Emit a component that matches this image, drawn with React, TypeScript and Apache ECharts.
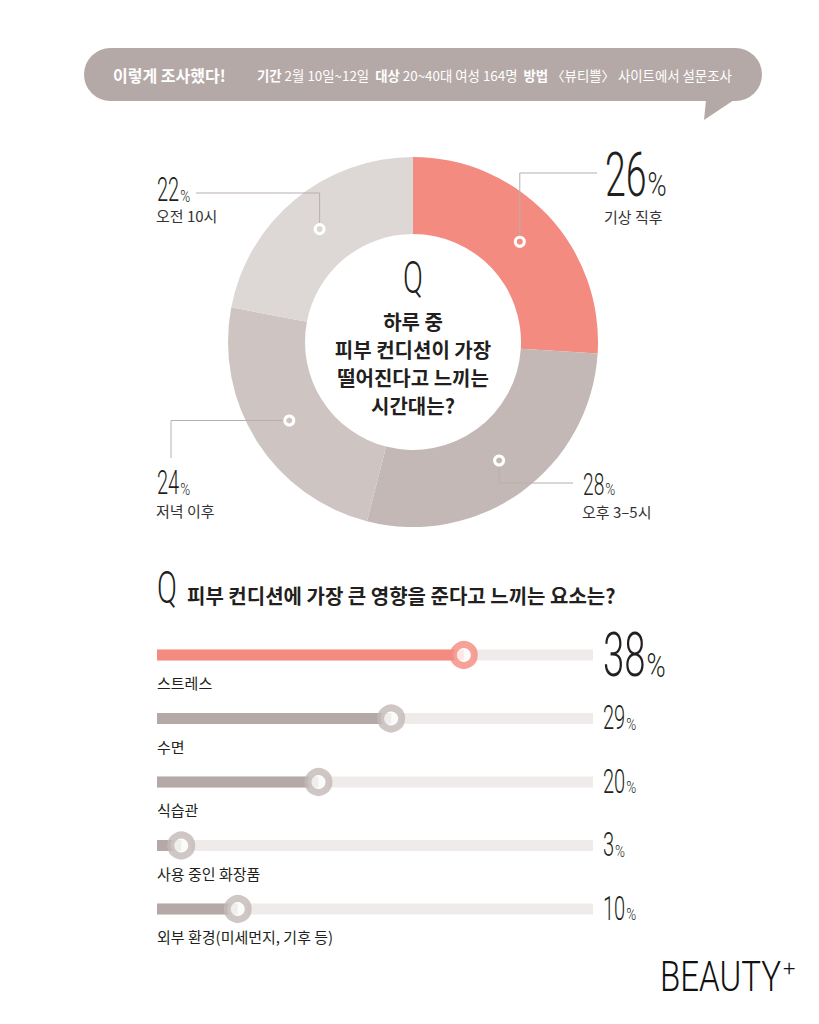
import React, { useEffect, useRef } from "react";
import * as echarts from "echarts";

// ---------- data ----------
const surveyTitle = "이렇게 조사했다!";
const surveyKeys = ["기간", "대상", "방법"];
const surveyValues = ["2월 10일~12일", "20~40대 여성 164명", "〈뷰티쁠〉 사이트에서 설문조사"];

const donutQuestion = ["하루 중", "피부 컨디션이 가장", "떨어진다고 느끼는", "시간대는?"];
const timeLabels = ["기상 직후", "오후 3–5시", "저녁 이후", "오전 10시"];
const timeValues = [26, 28, 24, 22];

const barQuestion = "피부 컨디션에 가장 큰 영향을 준다고 느끼는 요소는?";
const factorLabels = ["스트레스", "수면", "식습관", "사용 중인 화장품", "외부 환경(미세먼지, 기후 등)"];
const factorValues = [38, 29, 20, 3, 10];

const brand = "BEAUTY";

// ---------- styles ----------
const FONT_KR = '"Noto Sans CJK KR", "Noto Sans", sans-serif';
const FONT_NUM = 'Roboto, "DejaVu Sans", sans-serif';
const CORAL = "#F48B80";
const timeColors = [CORAL, "#C3B8B5", "#CEC5C2", "#DDD8D6"];
const TEXT = "#231F20";
const LINE = "#B9AFAD";

const CX = 413, CY = 342, R_IN = 108, R_OUT = 185;

const timeLabelLayout = [
  { x: 605, numBottom: 196, digitH: 43, pctH: 23, nameY: 216, anchor: [597, 173], elbow: "v" },
  { x: 583, numBottom: 495, digitH: 22, pctH: 12, nameY: 511, anchor: [573, 483], elbow: "v" },
  { x: 157, numBottom: 495, digitH: 23, pctH: 12, nameY: 510, anchor: [171, 458], elbow: "h" },
  { x: 157, numBottom: 202, digitH: 23, pctH: 12, nameY: 215, anchor: [196, 193], elbow: "v" },
];

function measure(text: string, size: number, weight: string | number, family: string) {
  const c = document.createElement("canvas").getContext("2d")!;
  c.font = `${weight} ${size}px ${family}`;
  return c.measureText(text).width;
}

function txt(x: number, y: number, text: string, o: any = {}) {
  const align = o.align || "left";
  const valign = o.valign || "middle";
  return {
    type: "text",
    x,
    y,
    z: 20,
    scaleX: o.sx || 1,
    silent: true,
    style: {
      text,
      fontSize: o.size || 14,
      fontFamily: o.family || FONT_KR,
      fontWeight: o.weight || "normal",
      fill: o.fill || TEXT,
      textAlign: align,
      align,
      textVerticalAlign: valign,
      verticalAlign: valign,
      lineHeight: o.lineHeight,
    },
  };
}

const DSX = 0.62;
const PSX = 0.8;
function numberLabel(x: number, bottom: number, num: string, digitH: number, pctH: number) {
  const dSize = digitH / 0.711;
  const pSize = pctH / 0.711;
  const wd = measure(num, dSize, 300, FONT_NUM) * DSX;
  return [
    txt(x, bottom - digitH / 2, num, { size: dSize, family: FONT_NUM, weight: 300, sx: DSX }),
    txt(x + wd + 1, bottom - pctH / 2, "%", { size: pSize, family: FONT_NUM, weight: 300, sx: PSX }),
  ];
}

export default function App() {
  const ref = useRef<HTMLDivElement>(null);

  useEffect(() => {
    const el = ref.current!;
    const chart = echarts.init(el, undefined, { renderer: "svg", width: 819, height: 1024 });

    const option: any = {
      animation: false,
      backgroundColor: "#ffffff",
      grid: { left: 157, width: 436, top: 623.25, height: 317.5 },
      xAxis: { type: "value", min: 0, max: 54, show: false },
      yAxis: { type: "category", data: factorLabels, inverse: true, show: false },
      series: [
        {
          type: "pie",
          center: [CX, CY],
          radius: [R_IN, R_OUT],
          startAngle: 90,
          clockwise: true,
          silent: true,
          label: { show: false },
          labelLine: { show: false },
          data: timeValues.map((v, i) => ({
            value: v,
            name: timeLabels[i],
            itemStyle: { color: timeColors[i], borderWidth: 0 },
          })),
        },
        {
          type: "bar",
          silent: true,
          barWidth: 11,
          showBackground: true,
          backgroundStyle: { color: "#EFEBEA" },
          data: factorValues.map((v, i) => ({
            value: v,
            itemStyle: { color: i === 0 ? CORAL : "#B4A9A7" },
          })),
          label: {
            show: true,
            position: [0, 33],
            align: "left",
            verticalAlign: "middle",
            formatter: "{b}",
            fontFamily: FONT_KR,
            fontSize: 15,
            color: TEXT,
          },
        },
        {
          type: "scatter",
          silent: true,
          symbol: "circle",
          symbolSize: 21,
          z: 5,
          data: factorValues.map((v, i) => ({
            value: [v, factorLabels[i]],
            itemStyle: { color: "#ffffff", borderColor: i === 0 ? CORAL : "#C3B9B6", borderWidth: 7 },
          })),
        },
      ],
    };
    chart.setOption(option);

    const els: any[] = [];

    // header bubble
    els.push({
      type: "rect",
      z: 10,
      shape: { x: 84, y: 48, width: 678, height: 53, r: 26.5 },
      style: { fill: "#B5A9A7" },
      silent: true,
    });
    els.push({
      type: "polygon",
      z: 10,
      shape: { points: [[706, 100], [734, 100], [704, 120]] },
      style: { fill: "#B5A9A7" },
      silent: true,
    });
    els.push(txt(113, 74.5, surveyTitle, { size: 16, weight: "bold", fill: "#ffffff" }));
    const infoText = surveyKeys.map((k, i) => `{b|${k}} ${surveyValues[i]}`).join("  ");
    els.push({
      type: "text",
      x: 257,
      y: 74.5,
      z: 20,
      silent: true,
      style: {
        text: infoText,
        fontSize: 13.4,
        fontFamily: FONT_KR,
        fill: "#ffffff",
        textAlign: "left",
        align: "left",
        textVerticalAlign: "middle",
        verticalAlign: "middle",
        rich: { b: { fontWeight: "bold", fontSize: 13.4, fontFamily: FONT_KR, fill: "#ffffff", color: "#ffffff" } },
      },
    });

    // donut dots, leader lines, labels
    const total = timeValues.reduce((a, b) => a + b, 0);
    let cum = 0;
    const rm = (R_IN + R_OUT) / 2;
    timeValues.forEach((v, i) => {
      const mid = ((cum + v / 2) / total) * Math.PI * 2;
      cum += v;
      const dx = CX + rm * Math.sin(mid);
      const dy = CY - rm * Math.cos(mid);
      const L = timeLabelLayout[i];
      const [ax, ay] = L.anchor;
      const pts = L.elbow === "v" ? [[dx, dy], [dx, ay], [ax, ay]] : [[dx, dy], [ax, dy], [ax, ay]];
      els.push({
        type: "polyline",
        z: 15,
        silent: true,
        shape: { points: pts },
        style: { stroke: LINE, lineWidth: 1, fill: null },
      });
      els.push({
        type: "circle",
        z: 16,
        silent: true,
        shape: { cx: dx, cy: dy, r: 4.5 },
        style: { fill: timeColors[i], stroke: "#ffffff", lineWidth: 3 },
      });
      els.push(...numberLabel(L.x, L.numBottom, String(v), L.digitH, L.pctH));
      els.push(txt(L.x - 1, L.nameY, timeLabels[i], { size: 15, fill: "#333333" }));
    });

    // center text
    els.push(txt(CX, 277.5, "Q", { size: 44, family: FONT_NUM, weight: 300, sx: 0.67, align: "center" }));
    els.push(
      txt(CX, 363.5, donutQuestion.join("\n"), {
        size: 20,
        weight: "bold",
        align: "center",
        lineHeight: 28,
      })
    );

    // bar section title
    els.push(txt(157, 588, "Q", { size: 44, family: FONT_NUM, weight: 300, sx: 0.67 }));
    els.push(txt(187, 595, barQuestion, { size: 20, weight: "bold" }));

    // value labels on the right
    factorValues.forEach((v, i) => {
      const y = chart.convertToPixel({ yAxisIndex: 0 }, factorLabels[i]) as number;
      const big = i === 0;
      const dh = big ? 44 : 23;
      const ph = big ? 23 : 12;
      els.push(...numberLabel(603, y + dh / 2, String(v), dh, ph));
    });

    // brand
    const bSize = 42;
    const bsx = 121 / measure(brand, bSize, 300, FONT_NUM);
    els.push(txt(660, 977, brand, { size: bSize, family: FONT_NUM, weight: 300, sx: bsx, fill: "#111111" }));
    els.push(txt(783, 968, "+", { size: 22, family: FONT_NUM, weight: 300, fill: "#111111" }));

    chart.setOption({ graphic: { elements: els } });

    return () => chart.dispose();
  }, []);

  return (
    <div
      ref={ref}
      style={{ position: "absolute", left: 0, top: 0, width: 819, height: 1024, background: "#ffffff" }}
    />
  );
}
